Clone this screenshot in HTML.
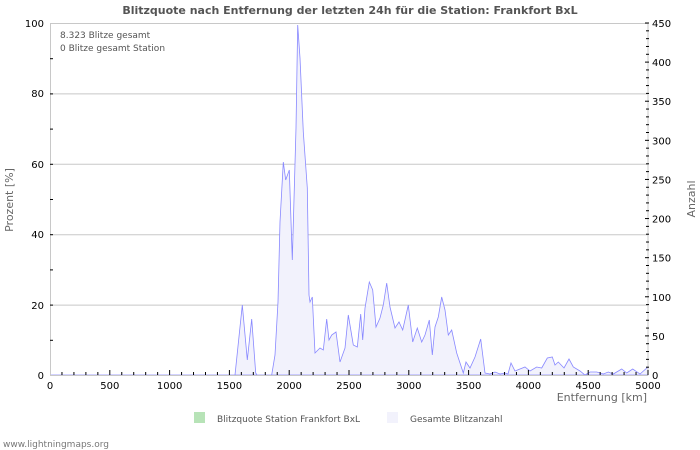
<!DOCTYPE html>
<html><head><meta charset="utf-8"><style>
html,body{margin:0;padding:0;background:#fff;}
svg{display:block;font-family:"DejaVu Sans","Liberation Sans",sans-serif;}
</style></head><body>
<svg width="700" height="450" viewBox="0 0 700 450" xmlns="http://www.w3.org/2000/svg">
<rect width="700" height="450" fill="#fff"/>
<text x="350" y="14" text-anchor="middle" font-size="11" font-weight="bold" fill="#555">Blitzquote nach Entfernung der letzten 24h für die Station: Frankfort BxL</text>
<g stroke="#c8c8c8" stroke-width="1">
<line x1="50" y1="23.5" x2="648" y2="23.5"/>
<line x1="50" y1="93.9" x2="648" y2="93.9"/>
<line x1="50" y1="164.3" x2="648" y2="164.3"/>
<line x1="50" y1="234.7" x2="648" y2="234.7"/>
<line x1="50" y1="305.1" x2="648" y2="305.1"/>
</g>
<polygon fill="#f2f2fc" stroke="#8888ff" stroke-width="0.8" points="50,375 235,375 242.3,305 247.3,360 251.7,319 255.7,373 257,375 271.7,375 275,355 278,302 280,222 283.3,162 285.7,180 289.3,170 292.3,260 296,128 297.7,25 300,58 303.3,132 307.3,188 309,295 310,302 312.3,297 315,353 320,348 323.3,350 326.7,319 329,340 331.7,335 336,332 340,362 345,348 348.3,315 353.3,345 357.3,347 360.7,314 362.7,340 365,308 369.3,282 372.7,290 376,327 380,318 383.3,305 386.7,283 390,307 395,328 399,322 402.7,330 408.3,305 412.7,342 417.3,328 421.7,342 425,335 429.3,320 432.3,355 435,327 438.3,317 441.7,297 445,310 448.3,335 451.7,330 456.7,353 463.3,373 466,362 470,368 475,357 480.7,339 485,373 490,374 495,372 500,374 505,373 508,374 511,363 515,371 525,367 530,371 536.7,367 541.7,368 547.3,358 552.3,357 555,365 558.3,362 564,368 569,359 573.3,367 580,371 585,375 590,372 596.7,372 603.3,374 608.3,372 613.3,374 621.7,369 626.7,373 632.7,369 640,374 648,367 648,375"/>
<g stroke="#c8c8c8" stroke-width="1">
<line x1="50.5" y1="23" x2="50.5" y2="375"/>
<line x1="648" y1="23" x2="648" y2="375"/>
<line x1="50" y1="375.5" x2="648" y2="375.5"/>
</g>
<g stroke="#000" stroke-width="1">
<line x1="50" y1="58.7" x2="53" y2="58.7"/><line x1="50" y1="93.9" x2="53" y2="93.9"/><line x1="50" y1="129.1" x2="53" y2="129.1"/><line x1="50" y1="164.3" x2="53" y2="164.3"/><line x1="50" y1="199.5" x2="53" y2="199.5"/><line x1="50" y1="234.7" x2="53" y2="234.7"/><line x1="50" y1="269.9" x2="53" y2="269.9"/><line x1="50" y1="305.1" x2="53" y2="305.1"/><line x1="50" y1="340.3" x2="53" y2="340.3"/>
</g>
<g id="xt" stroke="#000" stroke-width="1"></g>
<g id="yt" stroke="#000" stroke-width="1"></g>
<g font-size="10" fill="#000" text-anchor="end">
<text x="44" y="27">100</text><text x="44" y="97">80</text><text x="44" y="168">60</text><text x="44" y="238">40</text><text x="44" y="309">20</text><text x="44" y="379">0</text>
</g>
<g id="yl" font-size="10" fill="#000"></g>
<g id="xl" font-size="10" fill="#000" text-anchor="middle"></g>
<text x="60" y="38" font-size="9" fill="#555">8.323 Blitze gesamt</text>
<text x="60" y="51" font-size="9" fill="#555">0 Blitze gesamt Station</text>
<text x="647" y="401" font-size="11" fill="#666" text-anchor="end">Entfernung   [km]</text>
<text transform="translate(13,200) rotate(-90)" font-size="11" fill="#666" text-anchor="middle">Prozent   [%]</text>
<text transform="translate(695,199) rotate(-90)" font-size="11" fill="#666" text-anchor="middle">Anzahl</text>
<rect x="194" y="412" width="11" height="11" fill="#b7e3b7"/>
<text x="217" y="422" font-size="9" fill="#555">Blitzquote Station Frankfort BxL</text>
<rect x="387" y="412" width="11" height="11" fill="#f2f2fc"/>
<text x="410" y="422" font-size="9" fill="#555">Gesamte Blitzanzahl</text>
<text x="3" y="447" font-size="9" fill="#777">www.lightningmaps.org</text>
</svg>
<script>
var ns="http://www.w3.org/2000/svg";
function el(p,t,a,txt){var e=document.createElementNS(ns,t);for(var k in a)e.setAttribute(k,a[k]);if(txt!==undefined)e.textContent=txt;document.getElementById(p).appendChild(e);}
for(var i=1;i<=50;i++){var x=50+i*598/50;var maj=i%5==0;el("xt","line",{x1:x,y1:maj?370:372,x2:x,y2:375});}
for(var i=0;i<=10;i++){el("xl","text",{x:50+i*59.8,y:389},String(i*500));}
for(var v=10;v<=450;v+=10){var y=375-v*352/450;var maj=v%50==0;el("yt","line",{x1:maj?645:646,y1:y,x2:649,y2:y});}
for(var v=0;v<=450;v+=50){var y=375-v*352/450;el("yl","text",{x:652,y:y+4},String(v));}
</script>
</body></html>
